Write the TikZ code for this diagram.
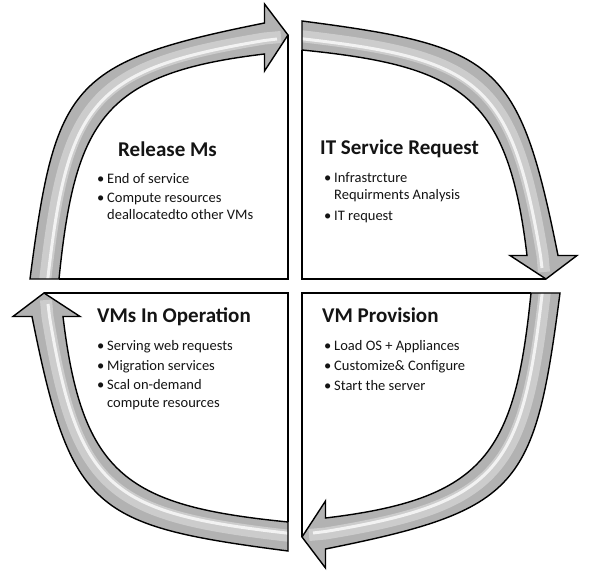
\documentclass[tikz,border=0pt]{standalone}
\usepackage{fontspec}
\setmainfont{Carlito}
\definecolor{arrowgray}{RGB}{178,178,178}
\definecolor{textcol}{RGB}{20,20,20}
\begin{document}
\begin{tikzpicture}[x=1pt,y=1pt,
  arrowfill/.style={fill=arrowgray},
  arrowedge/.style={draw=black, line width=1.4pt, line join=miter},
  glowwide/.style={draw=white, line width=12pt, opacity=0.35},
  glownarrow/.style={draw=white, line width=3pt, opacity=0.75},
  boxline/.style={draw=black, line width=1.4pt},
  titletext/.style={anchor=base west, font=\bfseries\fontsize{21}{24}\selectfont, text=textcol, inner sep=0pt},
  itemtext/.style={anchor=base west, font=\fontsize{14.5}{17}\selectfont, text=textcol, inner sep=0pt},
  dottext/.style={anchor=base west, font=\fontsize{14.5}{17}\selectfont, text=textcol, inner sep=0pt}]
\useasboundingbox[fill=white] (0,0) rectangle (592,581);

\foreach \r in {0,-90,-180,-270}{
  \begin{scope}[shift={(295,295)}, rotate=\r]
    % box edges of the quadrant
    \path[boxline] (-7,251) -- (-7,7) -- (-236,7);
    % the curved arrow
    \path[arrowfill] (-265,7) .. controls (-239.6,202) and (-225.5,224) .. (-30.5,263)
      -- (-30.5,282) -- (-7,251) -- (-30.5,215) -- (-30.5,232)
      .. controls (-190.5,213) and (-220,167) .. (-236,7) -- cycle;
    \begin{scope}
      \clip (-265,7) .. controls (-239.6,202) and (-225.5,224) .. (-30.5,263)
        -- (-30.5,282) -- (-7,251) -- (-30.5,215) -- (-30.5,232)
        .. controls (-190.5,213) and (-220,167) .. (-236,7) -- cycle;
      \path[glowwide] (-250.5,0) .. controls (-229.8,184.5) and (-208,218.5) .. (-30.5,247.5) -- (-14,249);
      \path[glownarrow] (-248,0) .. controls (-227.8,182.5) and (-206,216.5) .. (-30.5,245.5) -- (-18,247);
    \end{scope}
    \path[arrowedge] (-265,7) .. controls (-239.6,202) and (-225.5,224) .. (-30.5,263)
      -- (-30.5,282) -- (-7,251) -- (-30.5,215) -- (-30.5,232)
      .. controls (-190.5,213) and (-220,167) .. (-236,7) -- cycle;
  \end{scope}
}

% Release Ms (top left)
\node[titletext] (t1) at (118,424) {Release Ms};
\node[dottext] (d11) at (97,397) {\textbullet};
\node[itemtext] (i11) at (107,397) {End of service};
\node[dottext] (d12) at (97,378) {\textbullet};
\node[itemtext] (i12) at (107,378) {Compute resources};
\node[itemtext] (i13) at (107,361) {deallocatedto other VMs};

% IT Service Request (top right)
\node[titletext] (t2) at (320,426) {IT Service Request};
\node[dottext] (d21) at (324,398) {\textbullet};
\node[itemtext] (i21) at (334,398) {Infrastrcture};
\node[itemtext] (i22) at (334,381) {Requirments Analysis};
\node[dottext] (d23) at (324,360) {\textbullet};
\node[itemtext] (i23) at (334,360) {IT request};

% VMs In Operation (bottom left)
\node[titletext] (t3) at (97,258) {VMs In Operation};
\node[dottext] (d31) at (97,230) {\textbullet};
\node[itemtext] (i31) at (107,230) {Serving web requests};
\node[dottext] (d32) at (97,210) {\textbullet};
\node[itemtext] (i32) at (107,210) {Migration services};
\node[dottext] (d33) at (97,191) {\textbullet};
\node[itemtext] (i33) at (107,191) {Scal on-demand};
\node[itemtext] (i34) at (107,173) {compute resources};

% VM Provision (bottom right)
\node[titletext] (t4) at (322,258) {VM Provision};
\node[dottext] (d41) at (324,230) {\textbullet};
\node[itemtext] (i41) at (334,230) {Load OS + Appliances};
\node[dottext] (d42) at (324,210) {\textbullet};
\node[itemtext] (i42) at (334,210) {Customize\& Configure};
\node[dottext] (d43) at (324,190) {\textbullet};
\node[itemtext] (i43) at (334,190) {Start the server};
\end{tikzpicture}
\end{document}
